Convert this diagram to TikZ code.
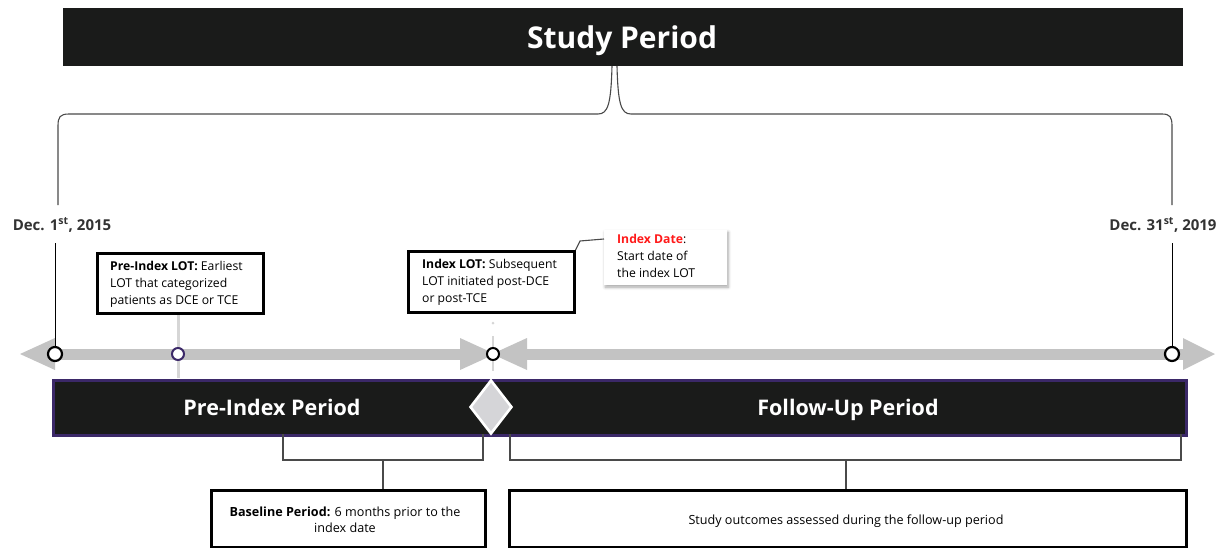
\documentclass[tikz,border=0pt]{standalone}
\usepackage{fontspec}
\setmainfont{Open Sans}
\usetikzlibrary{shapes.geometric,shadows,shadows.blur}
\definecolor{barblack}{HTML}{1A1B1A}
\definecolor{barpurple}{HTML}{3B2868}
\definecolor{tlgray}{HTML}{C3C3C3}
\definecolor{faintgray}{HTML}{D6D6D6}
\definecolor{dgray}{HTML}{4A4A4A}
\definecolor{datetext}{HTML}{333333}
\definecolor{diagray}{HTML}{D5D5D8}
\definecolor{idxred}{HTML}{FF1A1A}
\tikzset{
  toptxt/.style={font=\fontsize{12.2}{17}\selectfont, text=black, inner sep=0pt, anchor=base west, align=left},
  bottxt/.style={font=\fontsize{12.6}{16}\selectfont, text=black, inner sep=0pt, anchor=base, align=center},
  lotbox/.style={draw=black, line width=2.6pt, fill=white, anchor=north west, inner sep=0pt},
  bottombox/.style={draw=black, line width=3.4pt, fill=white, anchor=north west, inner sep=0pt},
  datelabel/.style={font=\fontsize{15}{17}\selectfont\bfseries, text=datetext, inner sep=0pt, anchor=base},
  periodtxt/.style={font=\fontsize{21.5}{25}\selectfont\bfseries, text=white, inner sep=0pt, anchor=base},
  endcirc/.style={circle, draw=black, line width=2.2pt, fill=white, minimum size=14pt, inner sep=0pt},
  midcirc/.style={circle, draw=black, line width=2pt, fill=white, minimum size=12pt, inner sep=0pt},
  bracket/.style={draw=dgray, line width=1.1pt},
  bracelink/.style={draw=dgray, line width=1.1pt},
}
\begin{document}
\begin{tikzpicture}[x=1pt,y=-1pt]
\useasboundingbox (0,0) rectangle (1227,547);

% Title bar
\node[fill=barblack, anchor=north west, minimum width=1120pt, minimum height=58pt, inner sep=0pt] (title) at (63,8) {};
\node[font=\fontsize{30}{34}\selectfont\bfseries, text=white, inner sep=0pt, anchor=base] (titletxt) at (622,48) {Study Period};

% Brace
\draw[bracelink] (58,205) -- (58,126) .. controls (58,117) and (60,114) .. (69,114) -- (598,114)
   .. controls (608,114) and (611,104) .. (612,66);
\draw[bracelink] (617,66) .. controls (618,104) and (621,114) .. (631,114) -- (1162,114)
   .. controls (1170,114) and (1172,117) .. (1172,126) -- (1172,205);

% Date labels
\node[datelabel] (d1) at (62,230) {Dec. 1\textsuperscript{st}, 2015};
\node[datelabel] (d2) at (1163,230) {Dec. 31\textsuperscript{st}, 2019};

% faint vertical guides
\draw[faintgray, line width=3pt] (178,312) -- (178,378);
\fill[faintgray] (493,323) circle (1.5pt);
\draw[faintgray, line width=2.5pt] (493,336) -- (493,371);

% Timeline
\fill[tlgray] (20,354) -- (55,338) -- (55,370) -- cycle;
\fill[tlgray] (55,348.5) rectangle (462,359.5);
\fill[tlgray] (460,338) -- (495,354) -- (460,370) -- cycle;
\fill[tlgray] (527,338) -- (492,354) -- (527,370) -- cycle;
\fill[tlgray] (525,348.5) rectangle (1185,359.5);
\fill[tlgray] (1183,338) -- (1215,354) -- (1183,370) -- cycle;

% Circles
\node[endcirc] (c1) at (55,354) {};
\node[circle, draw=barpurple, line width=2pt, fill=white, minimum width=10pt, minimum height=12pt, inner sep=0pt] (c2) at (178,354) {};
\node[midcirc] (c3) at (493,354) {};
\node[endcirc] (c4) at (1172,354) {};

\draw[black, line width=1pt] (c1.north) -- (55,243);
\draw[black, line width=1pt] (c4.north) -- (1172,243);

% Pre-Index LOT box (base anchor = last line)
\node[lotbox, minimum width=166pt, minimum height=60pt] (plot) at (96,252) {};
\node[toptxt] (plottxt) at (110,304)
  {\textbf{Pre-Index LOT:} Earliest\\LOT that categorized\\patients as DCE or TCE};

% Index LOT box
\node[lotbox, minimum width=166pt, minimum height=61pt] (ilot) at (407,250) {};
\node[toptxt] (ilottxt) at (422,302)
  {\textbf{Index LOT:} Subsequent\\LOT initiated post-DCE\\or post-TCE};

% Index date callout
\node[fill=white, anchor=north west, minimum width=123pt, minimum height=55pt, inner sep=0pt,
  blur shadow={shadow blur steps=6, shadow xshift=1pt, shadow yshift=-2pt, shadow opacity=35, shadow blur radius=3pt}] (idate) at (604,230) {};
\node[toptxt] (idatetxt) at (617,277)
  {\textcolor{idxred}{\textbf{Index Date}}:\\Start date of\\the index LOT};
\draw[dgray, line width=1.1pt] (ilot.north east) -- (580,241) -- (idate.west |- 0,239);

% Period bar
\node[draw=barpurple, line width=2.8pt, fill=barblack, anchor=north west, minimum width=1133pt, minimum height=55pt, inner sep=0pt] (pbar) at (52,379) {};
\node[periodtxt] (pretxt) at (272,415) {Pre-Index Period};
\node[periodtxt] (futxt) at (848,415) {Follow-Up Period};
\node[diamond, draw=white, line width=2.6pt, fill=diagray, minimum width=42pt, minimum height=54pt, inner sep=0pt, aspect=0.78] (dia) at (491,407) {};

% Bottom boxes
\node[bottombox, minimum width=274pt, minimum height=57pt] (base) at (210,489) {};
\node[bottxt] (basetxt) at (345,532) {\textbf{Baseline Period:} 6 months prior to the\\index date};
\node[bottombox, minimum width=677pt, minimum height=57pt] (outc) at (508,489) {};
\node[bottxt] (outctxt) at (846,524) {Study outcomes assessed during the follow-up period};

% Brackets
\draw[bracket] (283,434) |- (483,460) -- (483,434);
\draw[bracket] (383,460) -- (base.north -| 383,0);
\draw[bracket] (510,434) |- (1181,460) -- (1181,434);
\draw[bracket] (846,460) -- (outc.north -| 846,0);
\end{tikzpicture}
\end{document}
